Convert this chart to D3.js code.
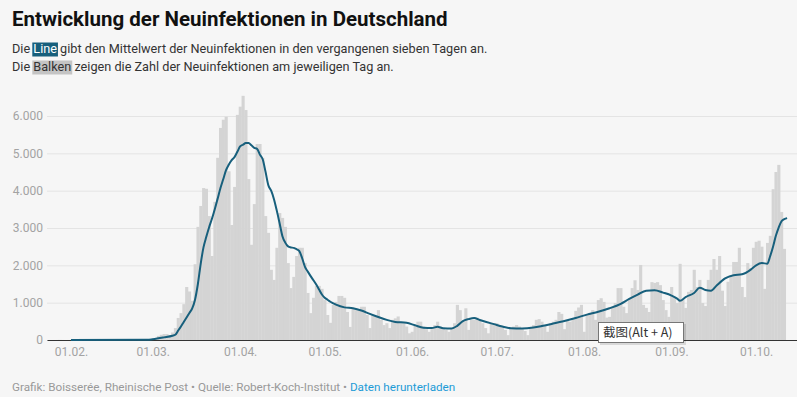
<!DOCTYPE html>
<html>
<head>
<meta charset="utf-8">
<script src="https://cdn.jsdelivr.net/npm/d3@7"></script>
<style>
  body { margin: 0; background: #fff; }
  svg text { font-family: Roboto, "Noto Sans", sans-serif; }
</style>
</head>
<body>
<svg id="chart" width="797" height="397"></svg>
<script>
// Neuinfektionen pro Tag (Balken), je Monat ab dem 1. (Januar ab dem 24.)
var casesJan = [0, 0, 0, 1, 3, 1, 0, 1];
var casesFeb = [1, 0, 2, 2, 0, 1, 1, 0, 0, 0, 2, 0, 0, 0, 0, 0, 0, 0, 0, 0, 0, 0, 0, 1, 3, 8, 20, 20, 25];
var casesMar = [40, 55, 110, 140, 160, 160, 130, 200, 320, 590, 720, 960, 1420, 1300, 1050, 2030,
  3030, 3590, 4070, 4050, 3320, 2250, 3700, 4880, 5680, 5900, 5980, 4520, 3080, 4100, 6030];
var casesApr = [6250, 6540, 6160, 4310, 2550, 3640, 5250, 5250, 4880, 3320, 2870, 1880, 1610, 2470, 3400,
  3270, 3030, 2060, 1390, 1690, 2250, 2470, 2470, 2060, 1260, 720, 1130, 1450, 1450, 1370];
var casesMay = [1070, 670, 460, 940, 1020, 1180, 1180, 1130, 750, 350, 860, 800, 800, 890, 890, 670,
  320, 670, 630, 800, 540, 400, 450, 320, 540, 580, 630, 490, 450, 360, 180];
var casesJun = [220, 400, 490, 490, 360, 290, 220, 290, 400, 490, 360, 320, 270, 220, 320, 450, 940, 800,
  490, 850, 270, 540, 540, 600, 540, 450, 320, 180, 450, 450];
var casesJul = [450, 400, 360, 270, 130, 290, 360, 400, 360, 320, 240, 130, 340, 400, 540, 560, 490, 400,
  220, 450, 490, 540, 750, 700, 290, 540, 490, 580, 780, 870, 940];
var casesAug = [220, 670, 720, 800, 540, 1070, 1120, 1020, 600, 620, 860, 990, 1390, 1390, 890, 720, 1100,
  1390, 1600, 1340, 2010, 940, 860, 750, 1550, 1530, 1550, 1470, 1070, 800, 620];
var casesSep = [1420, 1150, 990, 2040, 1070, 860, 1290, 1340, 1880, 1420, 1610, 990, 910, 1610, 1880, 2170,
  1880, 2250, 1320, 910, 1560, 1740, 2090, 2090, 2470, 1420, 1150, 2060, 1930, 2470];
var casesOct = [2630, 2660, 2500, 1370, 2600, 2790, 4040, 4500, 4690, 3430, 2440];

// 7-Tage-Mittelwert (Linie)
var avgDates = ["2020-02-01", "2020-02-28", "2020-03-01", "2020-03-05", "2020-03-08", "2020-03-09",
  "2020-03-10", "2020-03-11", "2020-03-12", "2020-03-13", "2020-03-14", "2020-03-15", "2020-03-16",
  "2020-03-17", "2020-03-18", "2020-03-19", "2020-03-20", "2020-03-21", "2020-03-22", "2020-03-23",
  "2020-03-24", "2020-03-25", "2020-03-26", "2020-03-27", "2020-03-28", "2020-03-29", "2020-03-30",
  "2020-03-31", "2020-04-01", "2020-04-02", "2020-04-03", "2020-04-04", "2020-04-05", "2020-04-06",
  "2020-04-07", "2020-04-08", "2020-04-09", "2020-04-10", "2020-04-11", "2020-04-12", "2020-04-13",
  "2020-04-14", "2020-04-15", "2020-04-16", "2020-04-17", "2020-04-18", "2020-04-19", "2020-04-20",
  "2020-04-21", "2020-04-22", "2020-04-23", "2020-04-24", "2020-04-25", "2020-04-26", "2020-04-27",
  "2020-04-28", "2020-04-29", "2020-04-30", "2020-05-01", "2020-05-02", "2020-05-03", "2020-05-05",
  "2020-05-08", "2020-05-11", "2020-05-14", "2020-05-17", "2020-05-20", "2020-05-23", "2020-05-26",
  "2020-05-30", "2020-06-02", "2020-06-05", "2020-06-08", "2020-06-10", "2020-06-12", "2020-06-15",
  "2020-06-17", "2020-06-19", "2020-06-21", "2020-06-23", "2020-06-25", "2020-06-27", "2020-06-30",
  "2020-07-03", "2020-07-06", "2020-07-10", "2020-07-14", "2020-07-17", "2020-07-21", "2020-07-25",
  "2020-07-29", "2020-08-02", "2020-08-06", "2020-08-10", "2020-08-14", "2020-08-17", "2020-08-20",
  "2020-08-23", "2020-08-26", "2020-08-29", "2020-09-01", "2020-09-03", "2020-09-04", "2020-09-06",
  "2020-09-09", "2020-09-11", "2020-09-13", "2020-09-15", "2020-09-17", "2020-09-20", "2020-09-23",
  "2020-09-26", "2020-09-29", "2020-10-01", "2020-10-03", "2020-10-05", "2020-10-06", "2020-10-07",
  "2020-10-08", "2020-10-09", "2020-10-10", "2020-10-11", "2020-10-12"];
var avgValues = [0, 5, 20, 70, 115, 140,
  250, 363, 483, 603, 723, 847, 1080,
  1494, 2035, 2480, 2764, 3022, 3246, 3500,
  3780, 4065, 4305, 4550, 4700, 4820, 4900,
  5040, 5185, 5230, 5275, 5280, 5215, 5147,
  5120, 4965, 4840, 4510, 4145, 3998, 3772,
  3465, 3126, 2780, 2608, 2507, 2480, 2467,
  2431, 2381, 2190, 1956, 1832, 1712, 1600,
  1486, 1350, 1220, 1131, 1077, 1025, 948,
  874, 850, 790, 700, 615, 540, 485,
  460, 395, 330, 320, 355, 315, 310,
  380, 505, 560, 590, 535, 490, 425,
  360, 315, 310, 335, 375, 440, 510,
  590, 680, 755, 850, 970, 1100, 1215,
  1320, 1335, 1270, 1190, 1110, 1050, 1150,
  1260, 1400, 1340, 1320, 1460, 1650, 1735,
  1760, 1880, 2000, 2060, 2045, 2250, 2500,
  2790, 3010, 3180, 3240, 3265];

var tickDates = ["2020-02-01", "2020-03-01", "2020-04-01", "2020-05-01", "2020-06-01",
  "2020-07-01", "2020-08-01", "2020-09-01", "2020-10-01"];
var yTicks = [0, 1000, 2000, 3000, 4000, 5000, 6000];

var parse = d3.utcParse("%Y-%m-%d");
var de = d3.formatLocale({decimal: ",", thousands: ".", grouping: [3], currency: ["", " €"]});

// Tabelle der Tage aus den Monatslisten
var months = [
  {start: "2020-01-24", values: casesJan}, {start: "2020-02-01", values: casesFeb},
  {start: "2020-03-01", values: casesMar}, {start: "2020-04-01", values: casesApr},
  {start: "2020-05-01", values: casesMay}, {start: "2020-06-01", values: casesJun},
  {start: "2020-07-01", values: casesJul}, {start: "2020-08-01", values: casesAug},
  {start: "2020-09-01", values: casesSep}, {start: "2020-10-01", values: casesOct}
];
var data = [];
months.forEach(function(m) {
  m.values.forEach(function(v, i) {
    data.push({date: d3.utcDay.offset(parse(m.start), i), value: v});
  });
});
var avg = avgDates.map(function(d, i) { return {date: parse(d), value: avgValues[i]}; });

var svg = d3.select("#chart");
svg.append("rect").attr("width", 797).attr("height", 397).attr("fill", "#f6f6f6");

var x = d3.scaleUtc()
  .domain([new Date(Date.UTC(2020, 0, 23, 12)), new Date(Date.UTC(2020, 9, 15, 12))])
  .range([47, 797]);
var y = d3.scaleLinear().domain([0, 6000]).range([340, 116]);

// grid + y labels
var gy = svg.append("g").attr("transform", "translate(47,0)")
  .call(d3.axisLeft(y).tickValues(yTicks).tickFormat(de.format(",")).tickSize(-750).tickPadding(4));
gy.select(".domain").remove();
gy.selectAll("line").attr("stroke", "#e4e4e4");
gy.selectAll("text").attr("fill", "#a3a3a3").style("font-size", "12px");

// bars
var bw = x(parse("2020-03-02")) - x(parse("2020-03-01"));
svg.append("g").selectAll("rect")
  .data(data)
  .enter()
  .append("rect")
    .attr("x", function(d) { return x(d.date) - bw / 2; })
    .attr("width", bw + 0.3)
    .attr("y", function(d) { return y(d.value); })
    .attr("height", function(d) { return y(0) - y(d.value); })
    .attr("fill", "#d4d4d4");

// x axis
var gx = svg.append("g").attr("transform", "translate(0,340)")
  .call(d3.axisBottom(x).tickValues(tickDates.map(parse)).tickFormat(d3.utcFormat("%d.%m."))
    .tickSize(0).tickPadding(7));
gx.select(".domain").attr("stroke", "#333");
gx.selectAll("text").attr("fill", "#a3a3a3").style("font-size", "12px");

// 7-day line
svg.append("path")
  .datum(avg)
  .attr("fill", "none")
  .attr("stroke", "#175f7c")
  .attr("stroke-width", 2)
  .attr("stroke-linejoin", "round")
  .attr("d", d3.line()
    .x(function(d) { return x(d.date); })
    .y(function(d) { return y(d.value); })
    .curve(d3.curveMonotoneX));

// header
svg.append("text").attr("x", 12).attr("y", 26)
  .style("font-size", "20.5px").style("font-weight", "700").attr("fill", "#111")
  .text("Entwicklung der Neuinfektionen in Deutschland");

function richLine(yPos, parts) {
  var xPos = 12;
  parts.forEach(function(p) {
    var g = svg.append("g");
    var t = g.append("text").attr("x", xPos).attr("y", yPos)
      .style("font-size", "12.7px").style("white-space", "pre")
      .attr("fill", p.fg || "#333").text(p.t);
    var w = t.node().getComputedTextLength();
    if (p.bg) {
      g.insert("rect", "text").attr("x", xPos - 1).attr("y", yPos - 10.5)
        .attr("width", w + 2).attr("height", 14).attr("fill", p.bg);
    }
    xPos += w;
  });
}
richLine(53, [{t: "Die "}, {t: "Line", bg: "#175f7c", fg: "#fff"},
  {t: " gibt den Mittelwert der Neuinfektionen in den vergangenen sieben Tagen an."}]);
richLine(71, [{t: "Die "}, {t: "Balken", bg: "#c4c4c4", fg: "#333"},
  {t: " zeigen die Zahl der Neuinfektionen am jeweiligen Tag an."}]);

// footer
var foot = svg.append("text").attr("x", 12).attr("y", 391).style("font-size", "11.7px").attr("fill", "#999");
foot.append("tspan").text("Grafik: Boisserée, Rheinische Post • Quelle: Robert-Koch-Institut • ");
foot.append("tspan").attr("fill", "#1d9bd6").text("Daten herunterladen");

// screenshot tooltip overlay
var tip = svg.append("g").attr("transform", "translate(598,322)");
tip.append("rect").attr("x", 2).attr("y", 2).attr("width", 86).attr("height", 21).attr("fill", "#000").attr("opacity", 0.12);
tip.append("rect").attr("x", 0.5).attr("y", 0.5).attr("width", 85).attr("height", 20)
  .attr("fill", "#fff").attr("stroke", "#767676");
tip.append("text").attr("x", 5).attr("y", 15)
  .style("font-family", "'Noto Sans CJK SC', sans-serif").style("font-size", "12.5px").attr("fill", "#333")
  .style("white-space", "pre")
  .text("截图(Alt + A)");
</script>
</body>
</html>
